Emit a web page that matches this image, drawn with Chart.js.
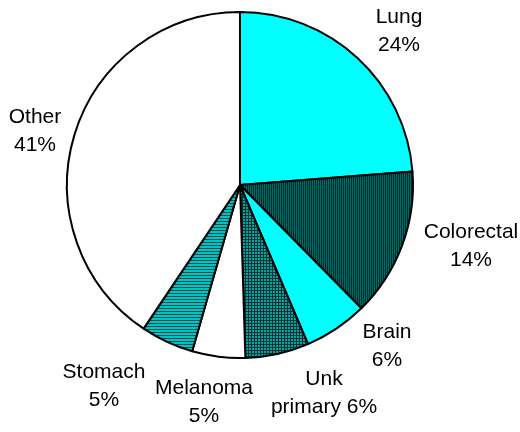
<!DOCTYPE html>
<html>
<head>
<meta charset="utf-8">
<script src="https://cdn.jsdelivr.net/npm/chart.js@4.4.1/dist/chart.umd.min.js"></script>
<style>
  html, body { margin: 0; padding: 0; background: #fff; }
  canvas { display: block; }
</style>
</head>
<body>
<canvas id="cancerPie" width="520" height="432"></canvas>
<script>
// cancer sites, share of cases (%)
var sites = ['Lung', 'Colorectal', 'Brain', 'Unk primary', 'Melanoma', 'Stomach', 'Other'];
var shares = [24, 14, 6, 6, 5, 5, 41];

// label text lines and where each label block is centred
var labelLines = [['Lung', '24%'], ['Colorectal', '14%'], ['Brain', '6%'], ['Unk', 'primary 6%'],
                  ['Melanoma', '5%'], ['Stomach', '5%'], ['Other', '41%']];
var labelAt = [[399, 31], [471, 246], [387, 346], [324, 393], [204, 402], [104, 386], [35, 131]];

// small tiled fills
function makePattern(w, h, pick) {
  var c = document.createElement('canvas');
  c.width = w; c.height = h;
  var g = c.getContext('2d');
  for (var x = 0; x < w; x++) {
    for (var y = 0; y < h; y++) {
      g.fillStyle = pick(x, y);
      g.fillRect(x, y, 1, 1);
    }
  }
  return g.createPattern(c, 'repeat');
}

var vStripes = makePattern(2, 1, function (x) { return x === 0 ? '#006b6b' : '#002a2a'; });
var grid = makePattern(3, 3, function (x, y) { return (x === 2 || y === 2) ? '#003030' : '#00a6a6'; });
var hStripes = makePattern(1, 3, function (x, y) { return y === 2 ? '#004d4d' : '#00c4c4'; });

var fills = ['#00ffff', vStripes, '#00ffff', grid, '#ffffff', hStripes, '#ffffff'];

var sliceLabels = {
  id: 'sliceLabels',
  afterDraw: function (chart) {
    var ctx = chart.ctx;
    ctx.save();
    ctx.font = '21px "Liberation Sans", Arial, sans-serif';
    ctx.fillStyle = '#000';
    ctx.textAlign = 'center';
    ctx.textBaseline = 'middle';
    labelLines.forEach(function (lines, i) {
      var p = labelAt[i];
      var lh = 28;
      var y0 = p[1] - (lines.length - 1) * lh / 2;
      lines.forEach(function (t, j) {
        ctx.fillText(t, p[0], y0 + j * lh);
      });
    });
    ctx.restore();
  }
};

var pie = new Chart(document.getElementById('cancerPie').getContext('2d'), {
  type: 'pie',
  data: {
    labels: sites,
    datasets: [{
      data: shares,
      backgroundColor: fills,
      borderColor: '#000',
      borderWidth: 2
    }]
  },
  options: {
    responsive: false,
    animation: false,
    layout: { padding: { left: 66, top: 11, right: 106, bottom: 73 } },
    plugins: {
      legend: { display: false },
      tooltip: { enabled: false }
    }
  },
  plugins: [sliceLabels]
});
</script>
</body>
</html>
